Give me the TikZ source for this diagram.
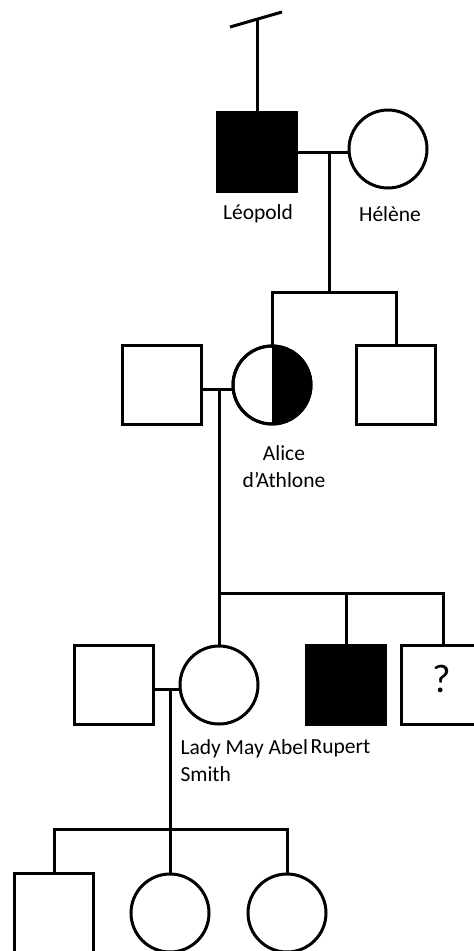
\documentclass[tikz,border=0pt]{standalone}
\usepackage{fontspec}
\setmainfont{Carlito}
\begin{document}
\begin{tikzpicture}[x=1pt,y=-1pt,line width=3pt,
  male/.style={draw,rectangle,minimum size=79pt,inner sep=0pt},
  female/.style={draw,circle,minimum size=78pt,inner sep=0pt},
  affected/.style={fill=black},
  carrier/.style={path picture={\fill[black] (path picture bounding box.north) rectangle (path picture bounding box.south east);}},
  lbl/.style={font=\fontsize{21.5}{27}\selectfont,inner sep=0pt,align=center},
  sym/.style={font=\fontsize{40}{44}\selectfont,inner sep=0pt}
]
\useasboundingbox (0,0) rectangle (474,951);

% generation I
\node[male,affected] (leo) at (257,152) {};
\node[female] (hel) at (388,149) {};
\coordinate (top) at (257,19.5);
\coordinate (slashA) at (230,27);
\coordinate (slashB) at (282,12);
\draw (leo.north) -- (top);
\draw (slashA) -- (slashB);
\coordinate (u1) at (329,152);
\coordinate (s1) at (329,292);
\draw (leo.east) -- (u1) -- (u1 -| hel.west);
\draw (u1) -- (s1);
\node[lbl] (lleo) at (258,214) {Léopold};
\node[lbl] (lhel) at (390,214) {Hélène};

% generation II
\node[male] (h1) at (162,385) {};
\node[female,carrier] (ali) at (272,385) {};
\node[female] at (272,385) {};
\node[male] (bro) at (396,385) {};
\draw (ali.north) -- (ali.north |- s1) -- (bro.north |- s1) -- (bro.north);
\coordinate (u2) at (219,389);
\coordinate (s2) at (219,593);
\draw (h1.east |- u2) -- (ali.west |- u2);
\draw (u2) -- (s2);
\node[lbl] (lali) at (284,467) {Alice\\d’Athlone};

% generation III
\node[male] (h2) at (114,685) {};
\node[female] (may) at (219,685) {};
\node[male,affected] (rup) at (346,685) {};
\node[male] (unk) at (441,685) {};
\node[sym] (qmark) at (442,679) {?};
\draw (may.north) -- (may.north |- s2) -- (443,593) -- (443,644.5);
\draw (rup.north) -- (rup.north |- s2);
\coordinate (u3) at (170,689);
\coordinate (s3) at (170,829);
\draw (h2.east |- u3) -- (may.west |- u3);
\draw (u3) -- (s3);
\node[lbl,anchor=west,align=left] (lmay) at (179,761) {Lady May Abel\\Smith};
\node[lbl] (lrup) at (340.5,748) {Rupert};

% generation IV
\node[male] (c1) at (54,913) {};
\node[female] (c2) at (170,913) {};
\node[female] (c3) at (287,913) {};
\draw (c1.north) -- (c1.north |- s3) -- (c3.north |- s3) -- (c3.north);
\draw (c2.north) -- (c2.north |- s3);
\end{tikzpicture}
\end{document}
